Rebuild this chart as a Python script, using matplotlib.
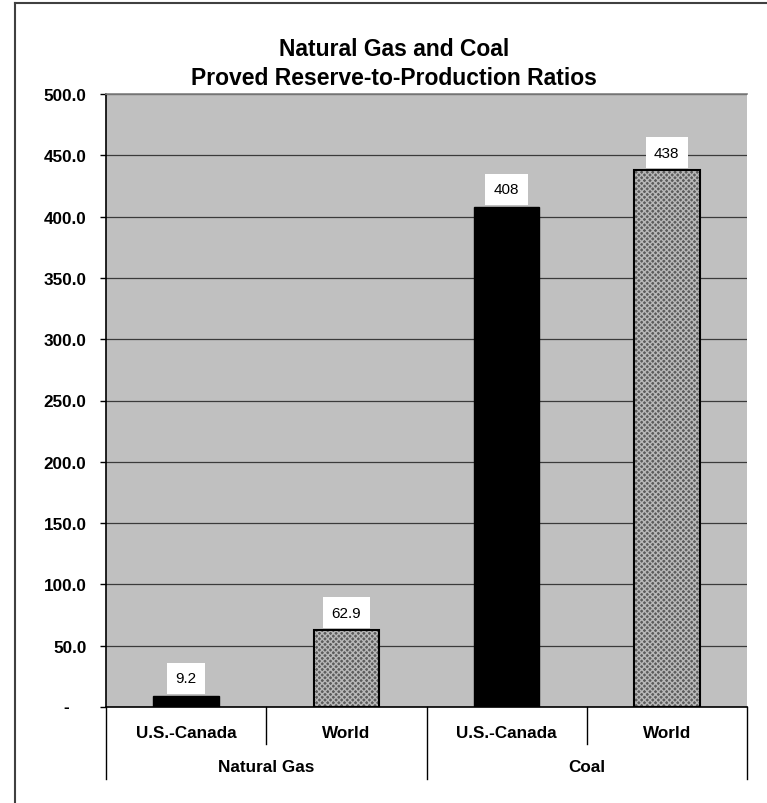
import matplotlib
matplotlib.use("Agg")
import matplotlib.pyplot as plt
from matplotlib.lines import Line2D
import matplotlib.transforms as mtransforms

plt.rcParams['font.family'] = ['Liberation Sans', 'DejaVu Sans']
plt.rcParams['hatch.linewidth'] = 1.0

categories = ["U.S.-Canada", "World", "U.S.-Canada", "World"]
groups = ["Natural Gas", "Coal"]
values = [9.2, 62.9, 408, 438]
value_labels = ["9.2", "62.9", "408", "438"]
is_world = [False, True, False, True]
yticks = [0, 50, 100, 150, 200, 250, 300, 350, 400, 450, 500]
ytick_labels = ["", "50.0", "100.0", "150.0", "200.0", "250.0", "300.0",
                "350.0", "400.0", "450.0", "500.0"]
title = "Natural Gas and Coal\nProved Reserve-to-Production Ratios"

W, H = 767, 804
fig = plt.figure(figsize=(W / 100, H / 100), dpi=100)
ax = fig.add_axes([106 / W, (H - 708) / H, 641 / W, 613 / H])
ax.set_facecolor('#C0C0C0')

x = list(range(len(values)))
bw = 0.41
for xi, v, w in zip(x, values, is_world):
    if w:
        ax.bar(xi, v, width=bw, color='#5c5c5c', hatch='xxxxxx',
               edgecolor='#b8b8b8', linewidth=0, zorder=3)
        ax.bar(xi, v, width=bw, fill=False, edgecolor='black',
               linewidth=1.5, zorder=4)
    else:
        ax.bar(xi, v, width=bw, color='black', edgecolor='black',
               linewidth=1.0, zorder=3)

for xi, v, lab in zip(x, values, value_labels):
    ax.annotate(lab, xy=(xi, v), xytext=(0, 12.5), textcoords='offset points',
                ha='center', va='center', fontsize=11, zorder=5,
                bbox=dict(boxstyle='square,pad=0.55', fc='white', ec='none'))

ax.set_xlim(-0.5, len(values) - 0.5)
ax.set_ylim(0, 500)
ax.set_yticks(yticks)
ax.set_yticklabels(ytick_labels, fontsize=12.3, fontweight='bold')
ax.tick_params(axis='y', length=4.5, width=1, pad=9.5, color='black')
ax.set_xticks([])
ax.yaxis.grid(True, color='#3a3a3a', linewidth=0.9)
ax.set_axisbelow(True)

ax.spines['left'].set_color('black')
ax.spines['left'].set_linewidth(1.2)
ax.spines['bottom'].set_color('black')
ax.spines['bottom'].set_linewidth(1.2)
ax.spines['top'].set_color('#808080')
ax.spines['top'].set_linewidth(1.2)
ax.spines['right'].set_visible(False)

# zero tick label "-"
ax.annotate("-", xy=(0, 0), xycoords='axes fraction', xytext=(-29, 0),
            textcoords='offset points', ha='center', va='center',
            fontsize=12.3, fontweight='bold')

# category axis with separators
trans = mtransforms.blended_transform_factory(ax.transData, ax.transAxes)
y_row1 = -37 / 613
y_row2 = -72 / 613
for i in range(len(values) + 1):
    xs = i - 0.5
    yb = y_row2 if i % 2 == 0 else y_row1
    ax.add_line(Line2D([xs, xs], [0, yb], transform=trans, color='black',
                       linewidth=1.0, clip_on=False))
for xi, c in zip(x, categories):
    ax.text(xi, -26 / 613, c, transform=trans, ha='center', va='center',
            fontsize=12.3, fontweight='bold')
for gi, g in enumerate(groups):
    ax.text(gi * 2 + 0.5, -60 / 613, g, transform=trans, ha='center',
            va='center', fontsize=12.3, fontweight='bold')

fig.text(394 / W, 1 - 64 / H, title, ha='center', va='center',
         fontsize=16.5, fontweight='bold', linespacing=1.3)

# outer chart frame (left and top edges visible)
fig.add_artist(Line2D([15 / W, 15 / W], [0, 1 - 4 / H], transform=fig.transFigure,
                      color='#404040', linewidth=1.5))
fig.add_artist(Line2D([15 / W, 1], [1 - 4 / H, 1 - 4 / H], transform=fig.transFigure,
                      color='#404040', linewidth=1.5))

fig.savefig("out.png", dpi=100, facecolor='white')
